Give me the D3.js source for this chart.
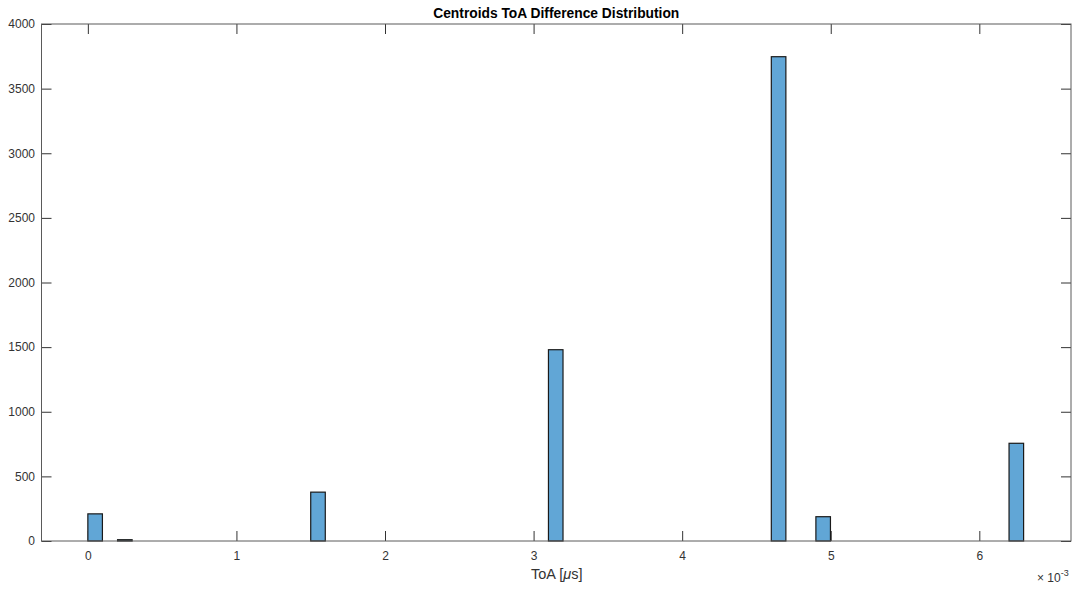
<!DOCTYPE html>
<html>
<head>
<meta charset="utf-8">
<script src="https://cdn.jsdelivr.net/npm/d3@7"></script>
<style>
  html, body { margin: 0; padding: 0; background: #fff; }
  svg { display: block; font-family: "Liberation Sans", Arial, sans-serif; }
</style>
</head>
<body>
<svg id="chart" width="1076" height="589"></svg>
<script>
// Bin left edges (in units of 1e-3 µs) and counts per bin
const binStarts = [0.0, 0.2, 1.5, 3.1, 4.6, 4.9, 6.2];
const binCounts = [210, 10, 378, 1480, 3747, 188, 756];
const binWidth = 0.098;
const xTicks = [0, 1, 2, 3, 4, 5, 6];
const yTicks = [0, 500, 1000, 1500, 2000, 2500, 3000, 3500, 4000];

(function draw() {
  const svg = d3.select("#chart");
  const plotL = 41.5, plotR = 1071, plotT = 24, plotB = 541;

  const x = d3.scaleLinear().domain([-0.312, 6.617]).range([plotL, plotR]);
  const y = d3.scaleLinear().domain([0, 4000]).range([plotB, plotT]);

  const axisColor = "#5a5a5a";
  const textColor = "#333";
  const tickLen = 10;

  // bottom axis with inward ticks
  const xb = svg.append("g").attr("transform", `translate(0,${plotB})`)
    .call(d3.axisBottom(x).tickValues(xTicks).tickSize(-tickLen).tickPadding(10).tickFormat(d3.format("d")));
  // top axis ticks
  const xt = svg.append("g").attr("transform", `translate(0,${plotT})`)
    .call(d3.axisTop(x).tickValues(xTicks).tickSize(-tickLen).tickFormat(""));
  // left axis
  const yl = svg.append("g").attr("transform", `translate(${plotL},0)`)
    .call(d3.axisLeft(y).tickValues(yTicks).tickSize(-tickLen).tickPadding(6.5).tickFormat(d3.format("d")));
  // right axis ticks
  const yr = svg.append("g").attr("transform", `translate(${plotR},0)`)
    .call(d3.axisRight(y).tickValues(yTicks).tickSize(-tickLen).tickFormat(""));

  [xb, xt, yl, yr].forEach(g => {
    g.select(".domain").remove();
    g.selectAll(".tick line").attr("stroke", "#333").attr("stroke-width", 1);
    g.selectAll(".tick text").attr("fill", textColor).style("font-size", "12px");
  });

  // bars
  svg.append("g")
    .selectAll("rect")
    .data(binStarts.map((s, i) => ({ s, c: binCounts[i] })))
    .join("rect")
    .attr("x", d => x(d.s))
    .attr("y", d => y(d.c))
    .attr("width", d => x(d.s + binWidth) - x(d.s))
    .attr("height", d => y(0) - y(d.c))
    .attr("fill", "#61a6d6")
    .attr("stroke", "#1a1a1a")
    .attr("stroke-width", 1.2);

  // box
  svg.append("rect")
    .attr("x", plotL).attr("y", plotT)
    .attr("width", plotR - plotL).attr("height", plotB - plotT)
    .attr("fill", "none").attr("stroke", axisColor).attr("stroke-width", 1);

  // title
  svg.append("text")
    .attr("x", (plotL + plotR) / 2).attr("y", 17.5)
    .attr("text-anchor", "middle")
    .attr("fill", "#000")
    .style("font-size", "13.8px").style("font-weight", "bold")
    .text("Centroids ToA Difference Distribution");

  // x label
  const xl = svg.append("text")
    .attr("x", (plotL + plotR) / 2 + 0.5).attr("y", 579)
    .attr("text-anchor", "middle")
    .attr("fill", textColor)
    .style("font-size", "14.5px");
  xl.append("tspan").text("ToA [");
  xl.append("tspan").style("font-style", "italic").text("μ");
  xl.append("tspan").text("s]");

  // exponent marker
  const ex = svg.append("text")
    .attr("x", 1037).attr("y", 582)
    .attr("fill", textColor)
    .style("font-size", "12px");
  ex.append("tspan").text("× 10");
  ex.append("tspan").attr("dy", -6).style("font-size", "9px").text("-3");
})();
</script>
</body>
</html>
